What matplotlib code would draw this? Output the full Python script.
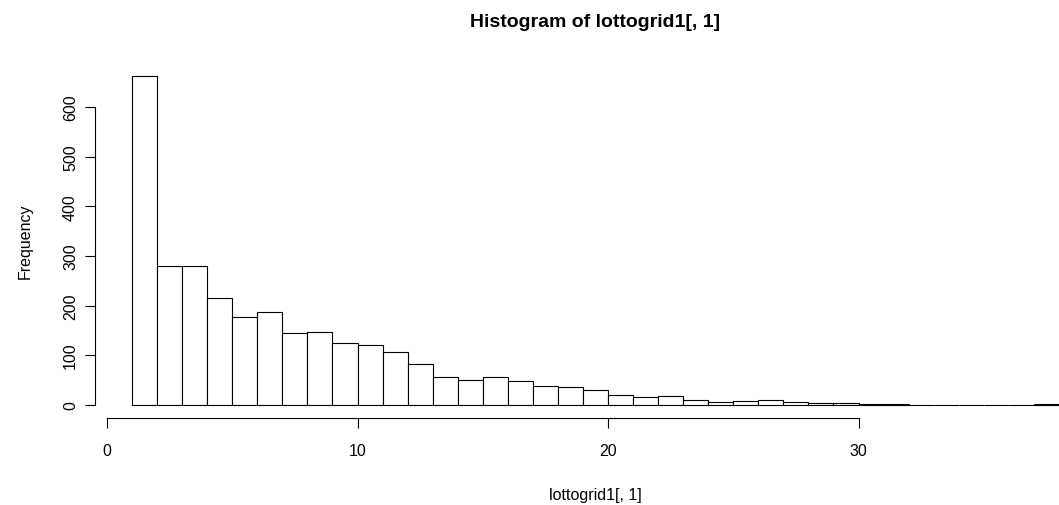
import numpy as np
import matplotlib.pyplot as plt

plt.rcParams['font.family'] = ['Liberation Sans', 'DejaVu Sans']

# bin edges 1..38, one count per unit-wide bin
bin_left = np.arange(1, 38)
counts = [663, 280, 280, 216, 177, 187, 145, 146, 124, 121, 106, 82, 56, 50, 56,
          47, 38, 36, 30, 19, 15, 17, 9, 5, 7, 9, 5, 4, 4, 2, 1,
          0, 0, 0, 0, 0, 1]
x_ticks = [0, 10, 20, 30]
y_ticks = [0, 100, 200, 300, 400, 500, 600]

W, H = 1059, 506
fig = plt.figure(figsize=(W / 100, H / 100), dpi=100)
ax = fig.add_axes([95 / W, (H - 419) / H, (1096 - 95) / W, (419 - 63.5) / H])

ax.bar(bin_left, counts, width=1, align='edge', color='white',
       edgecolor='black', linewidth=0.8)

ax.set_xlim(-0.48, 39.48)
ax.set_ylim(-0.04 * 663, 1.04 * 663)

for s in ['top', 'right']:
    ax.spines[s].set_visible(False)
ax.spines['bottom'].set_bounds(0, 30)
ax.spines['left'].set_bounds(0, 600)
for s in ['bottom', 'left']:
    ax.spines[s].set_linewidth(0.8)

ax.set_xticks(x_ticks)
ax.set_yticks(y_ticks)
ax.tick_params(axis='both', length=7.2, width=0.8, labelsize=11.5)
ax.tick_params(axis='x', pad=11)
ax.tick_params(axis='y', pad=5)
plt.setp(ax.get_yticklabels(), rotation=90, va='center')

ax.set_xlabel('lottogrid1[, 1]', fontsize=11.5, labelpad=21)
ax.set_ylabel('Frequency', fontsize=11.5, labelpad=22)
ax.set_title('Histogram of lottogrid1[, 1]', fontsize=14, fontweight='bold', pad=26)

fig.savefig('out.png', dpi=100)
